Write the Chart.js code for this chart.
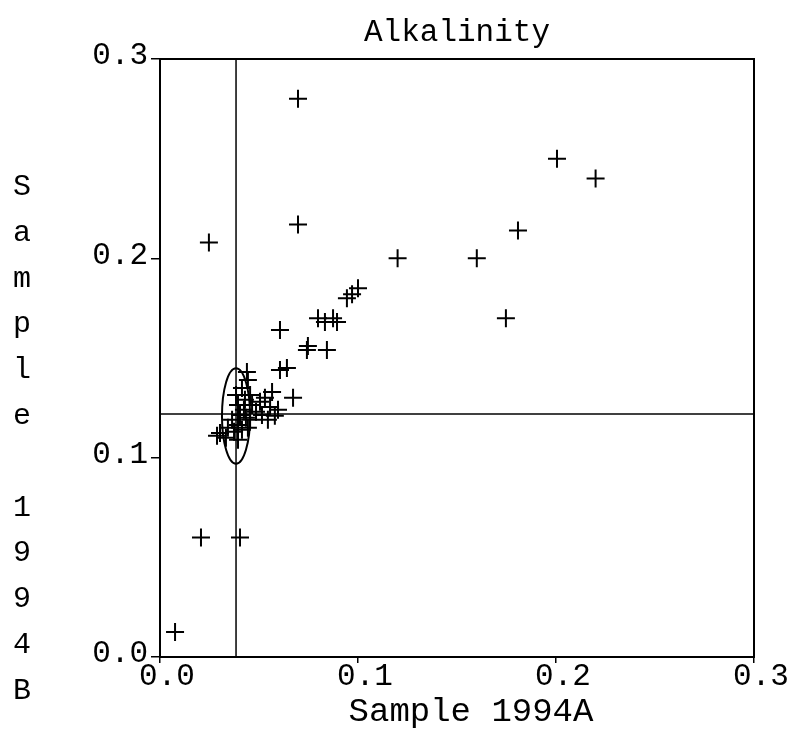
<!DOCTYPE html>
<html>
<head>
<meta charset="utf-8">
<title>Alkalinity</title>
<script src="https://cdn.jsdelivr.net/npm/chart.js@4.4.1/dist/chart.umd.min.js"></script>
<style>
  body { margin: 0; background: #fff; }
  #chart { display: block; }
</style>
</head>
<body>
<canvas id="chart" width="790" height="729"></canvas>
<script>
// Values
const chartTitle = 'Alkalinity';
const xTitle = 'Sample 1994A';
const yTitle = 'Sample 1994B';
const tickValues = [0.0, 0.1, 0.2, 0.3];

const sampleA = [
  0.0076, 0.0207, 0.0404, 0.0247, 0.0697, 0.0697, 0.120, 0.160, 0.2005, 0.220, 0.1808, 0.1747,
  0.100, 0.097, 0.0944, 0.0798, 0.0833, 0.0874, 0.0894, 0.0606, 0.0747, 0.0742, 0.0843,
  0.0641, 0.0606, 0.0439, 0.0672,
  0.0384, 0.0414, 0.0444, 0.0429, 0.0455, 0.0394, 0.0424, 0.0465, 0.0404, 0.0434,
  0.0364, 0.0394, 0.0455, 0.0485, 0.0505, 0.053, 0.0566, 0.0556, 0.0596, 0.0515,
  0.0545, 0.0343, 0.0374, 0.0414, 0.0303, 0.0288, 0.0333, 0.0444, 0.0394, 0.058
];
const sampleB = [
  0.0125, 0.060, 0.060, 0.208, 0.280, 0.217, 0.200, 0.200, 0.250, 0.240, 0.214, 0.170,
  0.185, 0.182, 0.180, 0.170, 0.168, 0.170, 0.168, 0.164, 0.156, 0.154, 0.154,
  0.145, 0.144, 0.143, 0.130,
  0.1315, 0.135, 0.139, 0.129, 0.1315, 0.1264, 0.124, 0.1264, 0.1214, 0.120,
  0.119, 0.1164, 0.119, 0.123, 0.128, 0.130, 0.133, 0.1254, 0.124, 0.1214,
  0.119, 0.115, 0.113, 0.114, 0.1124, 0.111, 0.110, 0.115, 0.109, 0.121
];

// reference lines (medians) and the confidence ellipse
const medianA = 0.0384;
const medianB = 0.1219;
const ellipseCenter = [0.0384, 0.1209];
const ellipseRadii = [0.0071, 0.024];

const points = sampleA.map((x, i) => ({ x: x, y: sampleB[i] }));
const monoFont = 'Liberation Mono';

const extras = {
  id: 'extras',
  afterDatasetsDraw(chart) {
    const { ctx, chartArea: a, scales } = chart;
    const cx = scales.x.getPixelForValue(ellipseCenter[0]);
    const cy = scales.y.getPixelForValue(ellipseCenter[1]);
    const rx = scales.x.getPixelForValue(ellipseCenter[0] + ellipseRadii[0]) - cx;
    const ry = cy - scales.y.getPixelForValue(ellipseCenter[1] + ellipseRadii[1]);
    ctx.save();
    ctx.strokeStyle = '#000';
    ctx.lineWidth = 2;
    ctx.beginPath();
    ctx.ellipse(cx, cy, rx, ry, 0, 0, Math.PI * 2);
    ctx.stroke();
    // frame round the plot
    ctx.strokeRect(a.left, a.top, a.right - a.left, a.bottom - a.top);
    ctx.restore();
  },
  afterDraw(chart) {
    const ctx = chart.ctx;
    const a = chart.chartArea;
    ctx.save();
    ctx.fillStyle = '#000';
    ctx.textAlign = 'center';
    ctx.textBaseline = 'middle';
    ctx.font = '31px "' + monoFont + '"';
    ctx.fillText(chartTitle, (a.left + a.right) / 2, 33);
    ctx.font = '34px "' + monoFont + '"';
    ctx.fillText(xTitle, 471, 712);
    // y title: one letter per line
    ctx.font = '30px "' + monoFont + '"';
    yTitle.split('').forEach((ch, i) => {
      ctx.fillText(ch, 22, 187 + i * 45.8);
    });
    ctx.restore();
  }
};

new Chart(document.getElementById('chart'), {
  type: 'scatter',
  data: {
    datasets: [
      {
        data: points,
        pointStyle: 'cross',
        pointRadius: 9,
        pointBorderWidth: 2,
        borderColor: '#000',
        backgroundColor: '#000'
      },
      {
        data: [{ x: medianA, y: 0 }, { x: medianA, y: 0.3 }],
        showLine: true,
        pointRadius: 0,
        borderColor: '#000',
        borderWidth: 1.5
      },
      {
        data: [{ x: 0, y: medianB }, { x: 0.3, y: medianB }],
        showLine: true,
        pointRadius: 0,
        borderColor: '#000',
        borderWidth: 1.5
      }
    ]
  },
  options: {
    responsive: false,
    animation: false,
    layout: { padding: { left: 0, right: 36, top: 59, bottom: 0 } },
    plugins: {
      legend: { display: false },
      tooltip: { enabled: false },
      title: { display: false }
    },
    scales: {
      x: {
        type: 'linear',
        min: 0,
        max: 0.3,
        afterBuildTicks: s => { s.ticks = tickValues.map(v => ({ value: v })); },
        afterFit: s => { s.height = 72; },
        ticks: {
          callback: v => v.toFixed(1),
          color: '#000',
          font: { family: monoFont, size: 31 },
          labelOffset: 7,
          padding: -5,
          maxRotation: 0
        },
        grid: { drawOnChartArea: false, tickLength: 6, color: '#000', lineWidth: 1.5 },
        border: { color: '#000', width: 2 }
      },
      y: {
        type: 'linear',
        min: 0,
        max: 0.3,
        afterBuildTicks: s => { s.ticks = tickValues.map(v => ({ value: v })); },
        afterFit: s => { s.width = 160; },
        ticks: {
          callback: v => v.toFixed(1),
          color: '#000',
          font: { family: monoFont, size: 31 },
          labelOffset: -3,
          padding: 3
        },
        grid: { drawOnChartArea: false, tickLength: 9, color: '#000', lineWidth: 1.5 },
        border: { color: '#000', width: 2 }
      }
    }
  },
  plugins: [extras]
});
</script>
</body>
</html>
